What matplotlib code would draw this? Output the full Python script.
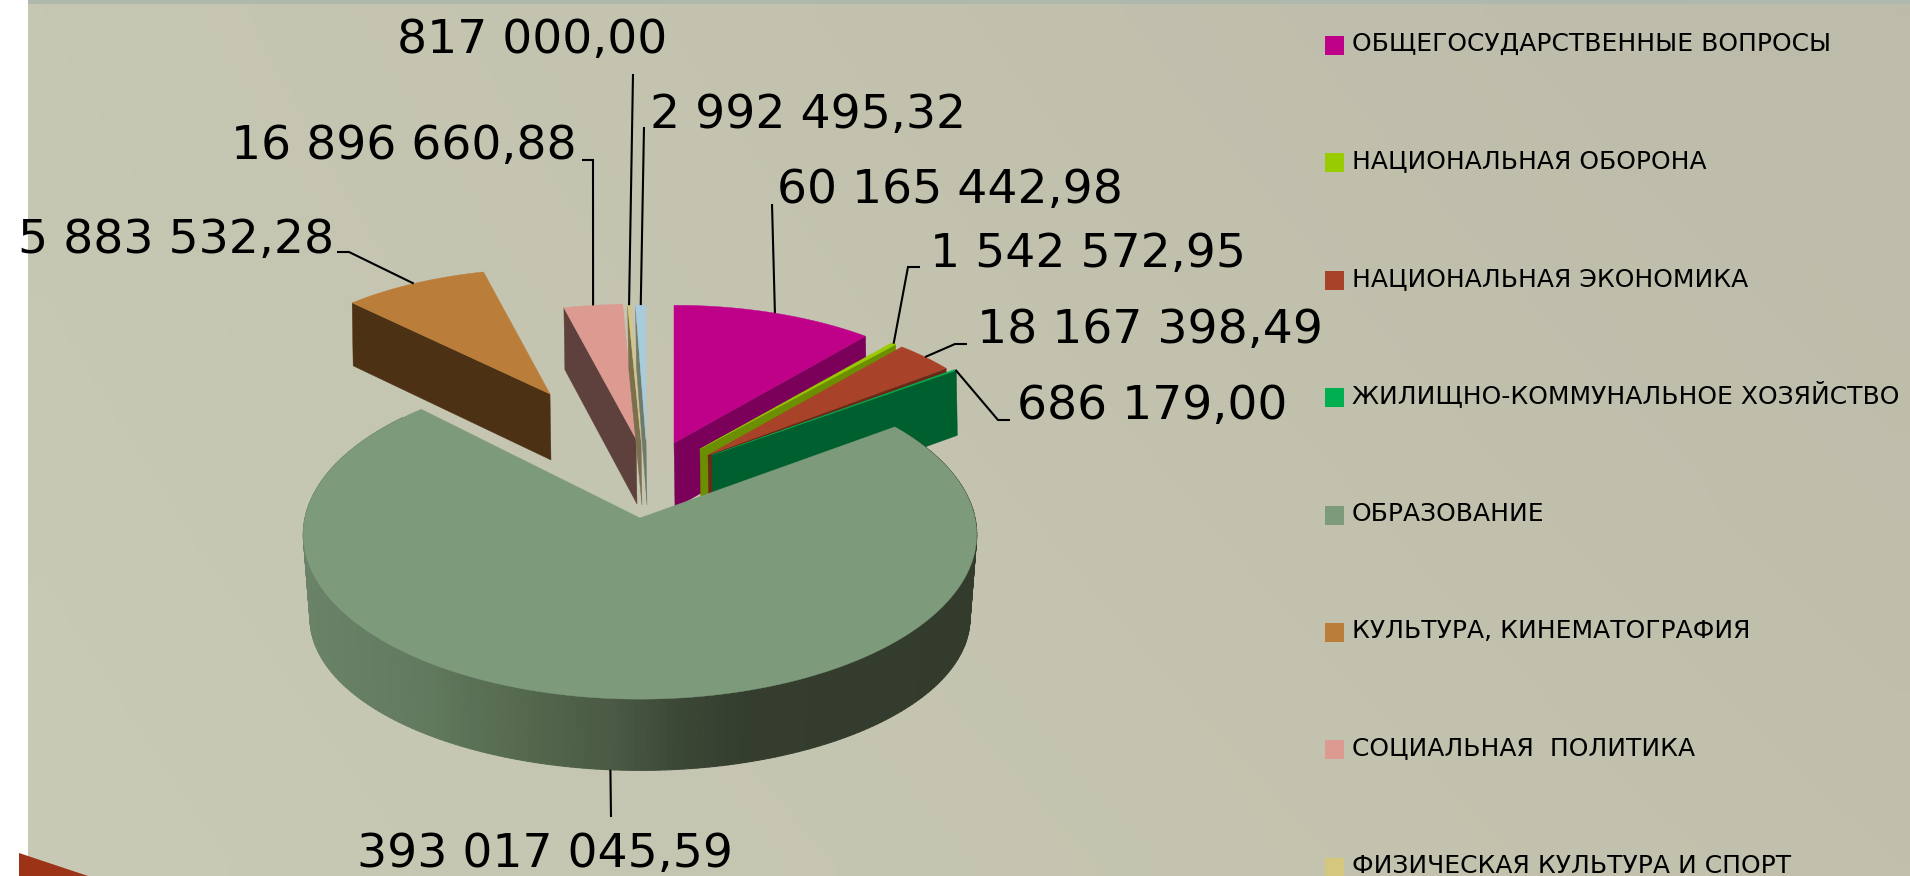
import numpy as np
import matplotlib
matplotlib.use("Agg")
import matplotlib.pyplot as plt
from matplotlib.colors import to_rgb
from matplotlib.patches import Polygon, Rectangle
from matplotlib.collections import PolyCollection

# ---- data ----
categories = ["ОБЩЕГОСУДАРСТВЕННЫЕ ВОПРОСЫ", "НАЦИОНАЛЬНАЯ ОБОРОНА", "НАЦИОНАЛЬНАЯ ЭКОНОМИКА",
              "ЖИЛИЩНО-КОММУНАЛЬНОЕ ХОЗЯЙСТВО", "ОБРАЗОВАНИЕ", "КУЛЬТУРА, КИНЕМАТОГРАФИЯ",
              "СОЦИАЛЬНАЯ  ПОЛИТИКА", "ФИЗИЧЕСКАЯ КУЛЬТУРА И СПОРТ"]
values = [60165442.98, 1542572.95, 18167398.49, 686179.00, 393017045.59,
          45883532.28, 16896660.88, 817000.00, 2992495.32]
value_labels = ["60 165 442,98", "1 542 572,95", "18 167 398,49", "686 179,00", "393 017 045,59",
                "5 883 532,28", "16 896 660,88", "817 000,00", "2 992 495,32"]

# ---- style ----
top_colors = ["#bf0089", "#99cc00", "#a8432a", "#00b050", "#7d9a7b", "#ba7d3a", "#dc9a90", "#d6c77f", "#a9cbdb"]
wall_colors = ["#7b0059", "#6b8f00", "#6a2a1a", "#005f2e", "#3c4a3a", "#4c3115", "#5e413d", "#7a7050", "#6f7a68"]
apex_px = [(674, 443), (700, 449), (708, 455), (712, 455), (640, 518),
           (550, 394), (636, 439), (641, 440), (646, 440)]
radius_px = [(311, 146), (311, 145), (308, 150), (314, 148), (335, 163),
             (295, 133), (320, 143), (320, 143), (320, 143)]
perspective = [0.06, 0.06, 0.06, 0.06, 0.10, 0.06, 0.06, 0.06, 0.06]
depth_px = [62, 62, 62, 65, 85, 63, 62, 62, 62]
label_pos = [(777, 203), (930, 267), (977, 343), (1017, 419), (357, 867),
             (18, 253), (231, 159), (397, 53), (650, 128)]
elbow_pts = [[(772, 204)], [(920, 267), (908, 267)], [(967, 344), (955, 344)], [(1010, 420), (998, 420)],
             [(611, 817)], [(337, 252), (349, 252)], [(582, 160), (593, 160)], [(633, 74)], [(644, 127)]]
LABEL_PT = 34
LEGEND_PT = 18
draw_order = [5, 6, 7, 8, 0, 1, 2, 3]
EDU = 4
WALL_SX, WALL_SY = 0.98, 0.924

fig = plt.figure(figsize=(19.10, 8.76), dpi=100)
ax = fig.add_axes([0, 0, 1, 1])

# background: four-corner gradient
u, v = np.meshgrid(np.linspace(0, 1, 64), np.linspace(0, 1, 32))
tl, tr, bl, br = [np.array(to_rgb(c)) for c in ("#c6c7b2", "#bdbbaa", "#c8cab5", "#c1c0ac")]
grad = ((1 - u)[..., None] * ((1 - v)[..., None] * tl + v[..., None] * bl)
        + u[..., None] * ((1 - v)[..., None] * tr + v[..., None] * br))
ax.imshow(grad, extent=(28, 1910, 876, 0), aspect="auto", zorder=0, interpolation="bilinear")
ax.set_xlim(0, 1910)
ax.set_ylim(876, 0)
ax.axis("off")
ax.add_patch(Rectangle((28, 0), 1882, 4, color="#aeb8ac", lw=0, zorder=1))
ax.add_patch(Polygon([(19, 853), (88, 876), (19, 876)], color="#9c3216", lw=0, zorder=1))

total = sum(values)
edges = np.concatenate([[0], np.cumsum(values)]) / total * 360


def project(phi, i, sx=1.0, sy=1.0, drop=0.0):
    r = np.radians(phi)
    w = 1 + perspective[i] * np.cos(r)
    ax_, ay_ = apex_px[i]
    a, b = radius_px[i]
    return ax_ + sx * a * np.sin(r) / w, ay_ - sy * b * np.cos(r) / w + drop


def wedge(i, z):
    start, end = edges[i], edges[i + 1]
    phis = np.linspace(start, end, max(3, int(end - start) * 2))
    xs, ys = project(phis, i)
    apex = apex_px[i]
    d = depth_px[i]
    wall_phi = end if (start + end) / 2 < 180 else start
    ox, oy = project(wall_phi, i)
    ax.add_patch(Polygon([apex, (ox, oy), (ox + 1, oy + d), (apex[0] + 1, apex[1] + d + 3)],
                         color=wall_colors[i], lw=0.3, zorder=z))
    ax.add_patch(Polygon([apex] + list(zip(xs, ys)), color=top_colors[i], lw=0.3, zorder=z + 0.1))


for n, i in enumerate(draw_order):
    wedge(i, 2 + n * 0.2)

# education: gradient outer wall + top surface
phis = np.arange(58, 312, 1.0)
wall_stops_x = [304, 420, 520, 611, 680, 750, 977]
wall_stops_c = ["#6a8268", "#627a5f", "#55694f", "#4a5a44", "#3b4735", "#343d2e", "#323b2c"]
strip, cols = [], []
for p0, p1 in zip(phis[:-1], phis[1:]):
    x0, y0 = project(p0, EDU)
    x1, y1 = project(p1, EDU)
    x2, y2 = project(p1, EDU, WALL_SX, WALL_SY, depth_px[EDU])
    x3, y3 = project(p0, EDU, WALL_SX, WALL_SY, depth_px[EDU])
    strip.append([(x0, y0), (x1, y1), (x2, y2), (x3, y3)])
    t = (x0 + x1) / 2
    cols.append([np.interp(t, wall_stops_x, [to_rgb(c)[k] for c in wall_stops_c]) for k in range(3)])
ax.add_collection(PolyCollection(strip, facecolors=cols, edgecolors=cols, linewidths=0.8, zorder=4))
p = np.linspace(edges[EDU], edges[EDU + 1], 300)
xs, ys = project(p, EDU)
ax.add_patch(Polygon([apex_px[EDU]] + list(zip(xs, ys)), color=top_colors[EDU], lw=0.3, zorder=4.5))

# leader lines and labels
for i, txt in enumerate(value_labels):
    mid = (edges[i] + edges[i + 1]) / 2
    if i == EDU:
        ex, ey = project(mid, i, WALL_SX, WALL_SY, depth_px[i])
    else:
        ex, ey = project(mid, i)
    pts = elbow_pts[i] + [(ex, ey)]
    ax.plot([q[0] for q in pts], [q[1] for q in pts], color="black", lw=1.5, zorder=6,
            solid_capstyle="butt", solid_joinstyle="miter")
    ax.text(label_pos[i][0], label_pos[i][1], txt, fontsize=LABEL_PT, family="DejaVu Sans",
            ha="left", va="baseline", color="black", zorder=7)

# legend
for n, name in enumerate(categories):
    y = 36 + n * 117.4
    ax.add_patch(Rectangle((1325, y), 19, 19, color=top_colors[n], lw=0, zorder=5))
    ax.text(1352, y + 15, name, fontsize=LEGEND_PT, family="DejaVu Sans",
            ha="left", va="baseline", color="black", zorder=7)

fig.savefig("out.png", dpi=100, facecolor="white")
